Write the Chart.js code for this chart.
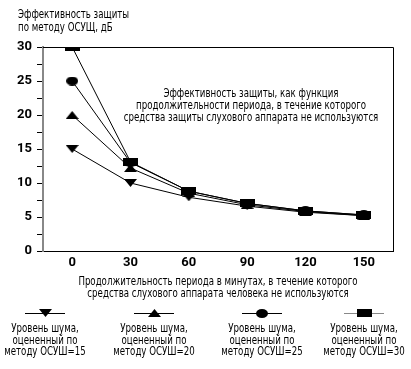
<!DOCTYPE html>
<html>
<head>
<meta charset="utf-8">
<script src="https://cdn.jsdelivr.net/npm/chart.js@4/dist/chart.umd.min.js"></script>
<style>
  html, body { margin: 0; padding: 0; background: #fff; }
  #wrap { width: 411px; height: 369px; }
</style>
</head>
<body>
<div id="wrap"><canvas id="chart" width="411" height="369"></canvas></div>
<script>
/* ===================== DATA ===================== */

const minutes = [0, 30, 60, 90, 120, 150];
const xTicks = [0, 30, 60, 90, 120, 150];
const yTicks = [0, 2.5, 5, 7.5, 10, 12.5, 15, 17.5, 20, 22.5, 25, 27.5, 30];

const osush15 = [15, 10, 7.9, 6.6, 5.7, 5.2];
const osush20 = [20, 12.2, 8.5, 6.8, 5.8, 5.2];
const osush25 = [25, 13, 8.8, 7.0, 5.9, 5.3];
const osush30 = [30, 13.1, 8.8, 7.0, 5.9, 5.3];

const legendLabels = [
  ["Уровень шума,", "оцененный по", "методу ОСУШ=15"],
  ["Уровень шума,", "оцененный по", "методу ОСУШ=20"],
  ["Уровень шума,", "оцененный по", "методу ОСУШ=25"],
  ["Уровень шума,", "оцененный по", "методу ОСУШ=30"],
];

const yTitle = ["Эффективность защиты", "по методу ОСУЩ, дБ"];
const xTitle = [
  "Продолжительность периода в минутах, в течение которого",
  "средства слухового аппарата человека не используются",
];
const note = [
  "Эффективность защиты, как функция",
  "продолжительности периода, в течение которого",
  "средства защиты слухового аппарата не используются",
];

/* ===================== MARKERS ===================== */

const FONT = '"DejaVu Sans Condensed", "DejaVu Sans", sans-serif';

function makeMarker(shape, w, h) {
  const c = document.createElement("canvas");
  c.width = w;
  c.height = h;
  const g = c.getContext("2d");
  g.fillStyle = "#000";
  g.beginPath();
  if (shape === "down") {
    g.moveTo(0, 0); g.lineTo(w, 0); g.lineTo(w / 2, h);
  } else if (shape === "up") {
    g.moveTo(w / 2, 0); g.lineTo(w, h); g.lineTo(0, h);
  } else if (shape === "ellipse") {
    g.ellipse(w / 2, h / 2, w / 2, h / 2, 0, 0, Math.PI * 2);
  } else {
    g.rect(0, 0, w, h);
  }
  g.closePath();
  g.fill();
  return c;
}

const markers = [
  makeMarker("down", 13, 8),
  makeMarker("up", 13, 8),
  makeMarker("ellipse", 12, 9),
  makeMarker("rect", 15, 8),
];

/* ===================== TEXT PLUGIN ===================== */

// narrow text, the original uses a tall condensed face
function narrowText(ctx, t, x, y) {
  ctx.save();
  ctx.translate(x, y);
  ctx.scale(0.8, 1);
  ctx.fillText(t, 0, 0);
  ctx.restore();
}

const textPlugin = {
  id: "texts",
  afterDraw(chart) {
    const ctx = chart.ctx;
    const a = chart.chartArea;
    const ys = chart.scales.y;
    ctx.save();

    // frame: top + right
    ctx.strokeStyle = "#000";
    ctx.lineWidth = 1;
    ctx.beginPath();
    ctx.moveTo(a.left, a.top + 0.5);
    ctx.lineTo(a.right + 0.5, a.top + 0.5);
    ctx.lineTo(a.right + 0.5, a.bottom);
    ctx.stroke();

    // y tick marks
    ctx.beginPath();
    ys.ticks.forEach((t) => {
      const py = Math.round(ys.getPixelForValue(t.value)) + 0.5;
      ctx.moveTo(a.left - 6, py);
      ctx.lineTo(a.left - 1, py);
    });
    ctx.stroke();

    ctx.fillStyle = "#000";
    ctx.font = "12px " + FONT;

    ctx.textAlign = "left";
    ctx.textBaseline = "middle";
    yTitle.forEach((t, i) => narrowText(ctx, t, 18, 15 + i * 13));

    ctx.textAlign = "center";
    note.forEach((t, i) => narrowText(ctx, t, 251, 94 + i * 12));
    xTitle.forEach((t, i) => narrowText(ctx, t, 218, 282 + i * 12));

    // legend
    const centers = [45, 154, 262, 364];
    centers.forEach((cx, i) => {
      ctx.strokeStyle = i === 3 ? "#888" : "#000";
      ctx.beginPath();
      ctx.moveTo(cx - 20, 313.5);
      ctx.lineTo(cx + 20, 313.5);
      ctx.stroke();
      const m = markers[i];
      ctx.drawImage(m, Math.round(cx - m.width / 2), Math.round(313 - m.height / 2));
      legendLabels[i].forEach((t, j) => narrowText(ctx, t, cx, 329 + j * 11.5));
    });

    ctx.restore();
  },
};

/* ===================== CHART ===================== */

function series(values, idx) {
  return {
    data: minutes.map((m, i) => ({ x: m, y: values[i] })),
    borderColor: "#000",
    borderWidth: 1,
    pointStyle: markers[idx],
    pointRadius: 6,
    pointHoverRadius: 6,
    tension: 0,
    fill: false,
  };
}

const tickFont = { family: "Roboto", size: 13, weight: "bold" };

new Chart(document.getElementById("chart"), {
  type: "line",
  data: {
    datasets: [
      series(osush15, 0),
      series(osush20, 1),
      series(osush25, 2),
      series(osush30, 3),
    ],
  },
  options: {
    responsive: false,
    animation: false,
    events: [],
    layout: { padding: { left: 0, top: 47, right: 18, bottom: 88 } },
    plugins: { legend: { display: false }, tooltip: { enabled: false } },
    scales: {
      x: {
        type: "linear",
        min: -15,
        max: 165,
        afterBuildTicks: (s) => { s.ticks = xTicks.map((v) => ({ value: v })); },
        afterFit: (s) => { s.height = 30; },
        grid: { drawOnChartArea: false, drawTicks: false },
        border: { color: "#000", width: 1 },
        ticks: {
          color: "#000",
          padding: 4,
          maxRotation: 0,
          font: tickFont,
        },
      },
      y: {
        min: 0,
        max: 30,
        afterBuildTicks: (s) => { s.ticks = yTicks.map((v) => ({ value: v })); },
        afterFit: (s) => { s.width = 43; },
        grid: { drawOnChartArea: false, drawTicks: false },
        border: { color: "#888", width: 2 },
        ticks: {
          color: "#000",
          padding: 11,
          autoSkip: false,
          callback: (v) => (v % 5 === 0 ? String(v) : ""),
          font: tickFont,
        },
      },
    },
  },
  plugins: [textPlugin],
});
</script>
</body>
</html>
